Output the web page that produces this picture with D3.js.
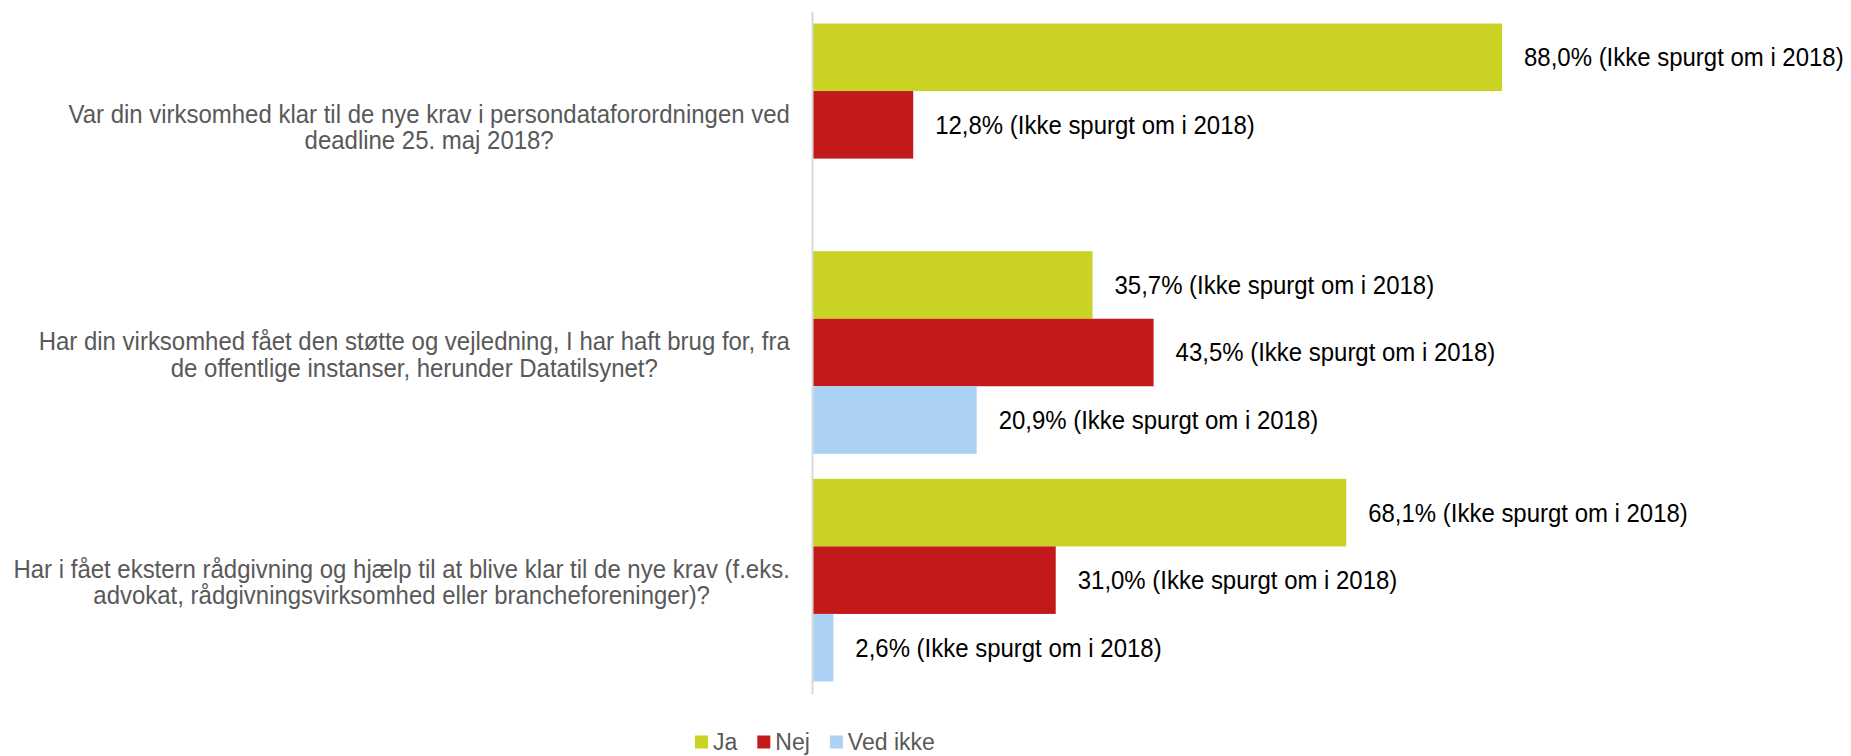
<!DOCTYPE html>
<html>
<head>
<meta charset="utf-8">
<script src="https://cdn.jsdelivr.net/npm/d3@7"></script>
<style>
  html, body { margin: 0; padding: 0; background: #ffffff; }
  svg { display: block; }
  text { font-family: Arial, "Liberation Sans", sans-serif; }
</style>
</head>
<body>
<svg id="chart" width="1851" height="756"></svg>
<script>
// ---- Data ----
const categories = [
  "Var din virksomhed klar til de nye krav i persondataforordningen ved deadline 25. maj 2018?",
  "Har din virksomhed fået den støtte og vejledning, I har haft brug for, fra de offentlige instanser, herunder Datatilsynet?",
  "Har i fået ekstern rådgivning og hjælp til at blive klar til de nye krav (f.eks. advokat, rådgivningsvirksomhed eller brancheforeninger)?"
];
const categoryLines = [
  ["Var din virksomhed klar til de nye krav i persondataforordningen ved", "deadline 25. maj 2018?"],
  ["Har din virksomhed fået den støtte og vejledning, I har haft brug for, fra", "de offentlige instanser, herunder Datatilsynet?"],
  ["Har i fået ekstern rådgivning og hjælp til at blive klar til de nye krav (f.eks.", "advokat, rådgivningsvirksomhed eller brancheforeninger)?"]
];
const seriesNames = ["Ja", "Nej", "Ved ikke"];
const jaValues = [88.0, 35.7, 68.1];
const nejValues = [12.8, 43.5, 31.0];
const vedIkkeValues = [null, 20.9, 2.6];
const labelSuffix = " (Ikke spurgt om i 2018)";
const seriesColors = ["#cad224", "#c21a1b", "#abd2f4"];

const seriesValues = [jaValues, nejValues, vedIkkeValues];
const rows = [];
categories.forEach((c, i) => {
  seriesNames.forEach((s, j) => {
    rows.push({ category: c, series: s, value: seriesValues[j][i], color: seriesColors[j] });
  });
});

// ---- Layout ----
const svg = d3.select("#chart");
const FS = 25.5, SX = 0.94;
const x = d3.scaleLinear().domain([0, 100]).range([813, 1596]);
const y = d3.scaleBand().domain(categories).range([11, 694]).paddingInner(0.11).paddingOuter(0.055);
const ySub = d3.scaleBand().domain(seriesNames).range([0, y.bandwidth()]).padding(0);

const fmt = v => d3.format(".1f")(v).replace(".", ",") + "%";

// bars
svg.append("g").selectAll("rect")
  .data(rows.filter(d => d.value != null))
  .join("rect")
  .attr("x", x(0))
  .attr("y", d => y(d.category) + ySub(d.series))
  .attr("width", d => x(d.value) - x(0))
  .attr("height", ySub.bandwidth())
  .attr("fill", d => d.color);

// axis line
const yAxis = d3.axisLeft(y).tickSize(0).tickFormat("");
const axG = svg.append("g").attr("transform", `translate(${x(0) - 1},0)`).call(yAxis);
axG.select(".domain").attr("stroke", "#d9d9d9").attr("stroke-width", 2);

// value labels
svg.append("g").selectAll("g")
  .data(rows.filter(d => d.value != null))
  .join("g")
  .attr("transform", d => `translate(${x(d.value) + 22},${y(d.category) + ySub(d.series) + ySub.bandwidth() / 2}) scale(${SX},1)`)
  .append("text")
  .attr("dy", "0.35em")
  .attr("font-size", FS)
  .attr("fill", "#000")
  .text(d => fmt(d.value) + labelSuffix);

// category labels
const lineH = 26.5;
categories.forEach((c, i) => {
  const lines = categoryLines[i];
  const cy = y(c) + y.bandwidth() / 2 + 2;
  const g = svg.append("g");
  const t = g.append("text")
    .attr("text-anchor", "middle")
    .attr("font-size", FS)
    .attr("fill", "#595959");
  lines.forEach((ln, k) => {
    t.append("tspan")
      .attr("x", 0)
      .attr("y", (k - (lines.length - 1) / 2) * lineH)
      .attr("dy", "0.35em")
      .text(ln);
  });
  let maxW = 0;
  t.selectAll("tspan").each(function () { maxW = Math.max(maxW, this.getComputedTextLength()); });
  const cx = 790 - (maxW * SX) / 2;
  g.attr("transform", `translate(${cx},${cy}) scale(${SX},1)`);
});

// legend
const legend = svg.append("g");
let lx = 695;
const ly = 741;
seriesNames.forEach((s, j) => {
  legend.append("rect")
    .attr("x", lx).attr("y", ly - 5.5)
    .attr("width", 13).attr("height", 13)
    .attr("fill", seriesColors[j]);
  const tg = legend.append("g").attr("transform", `translate(${lx + 18},${ly}) scale(${SX},1)`);
  const tt = tg.append("text")
    .attr("dy", "0.35em")
    .attr("font-size", 24.5)
    .attr("fill", "#595959")
    .text(s);
  lx += 18 + tt.node().getComputedTextLength() * SX + 20;
});
</script>
</body>
</html>
